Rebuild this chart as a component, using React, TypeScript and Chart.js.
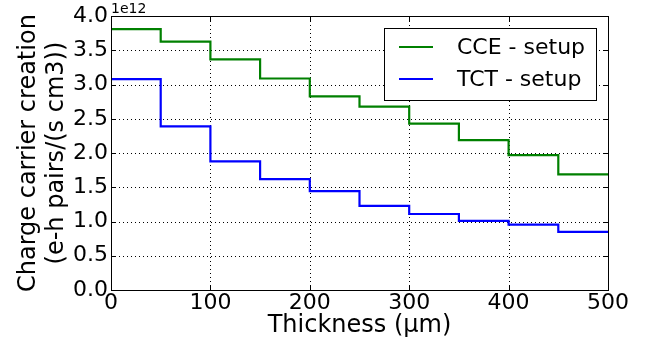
import React, { useEffect, useRef } from "react";
import { Chart, registerables } from "chart.js";

Chart.register(...registerables);

const thickness = [0, 50, 100, 150, 200, 250, 300, 350, 400, 450, 500];
const cce = [3.81, 3.63, 3.37, 3.09, 2.83, 2.68, 2.43, 2.19, 1.97, 1.69, 1.69];
const tct = [3.08, 2.39, 1.88, 1.62, 1.445, 1.23, 1.11, 1.01, 0.955, 0.85, 0.85];
const seriesLabels = ["CCE - setup", "TCT - setup"];
const seriesColors = ["#008000", "#0000ff"];
const yTitle = ["Charge carrier creation", "(e-h pairs/(s cm3))"];
const xTitle = "Thickness (\u00b5m)";
const offsetText = "1e12";

const FONT = "'DejaVu Sans', sans-serif";

const gridPlugin = {
  id: "dotgrid",
  beforeDatasetsDraw(chart: any) {
    const { ctx, chartArea: a, scales } = chart;
    ctx.save();
    ctx.strokeStyle = "#000";
    ctx.lineWidth = 1;
    ctx.setLineDash([1, 3]);
    ctx.beginPath();
    scales.x.ticks.forEach((t: any) => {
      const px = Math.round(scales.x.getPixelForValue(t.value)) + 0.5;
      ctx.moveTo(px, a.bottom);
      ctx.lineTo(px, a.top);
    });
    scales.y.ticks.forEach((t: any) => {
      const py = Math.round(scales.y.getPixelForValue(t.value)) + 0.5;
      ctx.moveTo(a.left, py);
      ctx.lineTo(a.right, py);
    });
    ctx.stroke();
    ctx.restore();
  },
};

const framePlugin = {
  id: "frame",
  afterDraw(chart: any) {
    const { ctx, chartArea: a, scales } = chart;
    ctx.save();
    ctx.strokeStyle = "#000";
    ctx.lineWidth = 1;
    const tl = 5;
    ctx.beginPath();
    scales.x.ticks.forEach((t: any) => {
      const px = Math.round(scales.x.getPixelForValue(t.value)) + 0.5;
      ctx.moveTo(px, a.bottom);
      ctx.lineTo(px, a.bottom - tl);
      ctx.moveTo(px, a.top);
      ctx.lineTo(px, a.top + tl);
    });
    scales.y.ticks.forEach((t: any) => {
      const py = Math.round(scales.y.getPixelForValue(t.value)) + 0.5;
      ctx.moveTo(a.left, py);
      ctx.lineTo(a.left + tl, py);
      ctx.moveTo(a.right, py);
      ctx.lineTo(a.right - tl, py);
    });
    ctx.stroke();
    ctx.strokeRect(Math.round(a.left) + 0.5, Math.round(a.top) + 0.5, Math.round(a.right - a.left), Math.round(a.bottom - a.top));
    ctx.fillStyle = "#000";
    ctx.font = `14px ${FONT}`;
    ctx.textAlign = "left";
    ctx.textBaseline = "alphabetic";
    ctx.fillText(offsetText, a.left, a.top - 3);
    const bx = 384.5, by = 28.5, bw = 212, bh = 72;
    ctx.fillStyle = "#fff";
    ctx.fillRect(bx, by, bw, bh);
    ctx.strokeRect(bx, by, bw, bh);
    ctx.font = `22px ${FONT}`;
    ctx.textBaseline = "middle";
    chart.data.datasets.forEach((ds: any, i: number) => {
      const ly = 47 + i * 32;
      ctx.strokeStyle = ds.borderColor;
      ctx.lineWidth = 2.2;
      ctx.beginPath();
      ctx.moveTo(399, ly);
      ctx.lineTo(433, ly);
      ctx.stroke();
      ctx.fillStyle = "#000";
      ctx.fillText(ds.label, 457, ly + 1);
    });
    ctx.restore();
  },
};

export default function App() {
  const ref = useRef<HTMLCanvasElement>(null);
  useEffect(() => {
    if (!ref.current) return;
    const chart = new Chart(ref.current, {
      type: "line",
      data: {
        datasets: [cce, tct].map((vals, i) => ({
          label: seriesLabels[i],
          data: thickness.map((t, j) => ({ x: t, y: vals[j] })),
          borderColor: seriesColors[i],
          backgroundColor: seriesColors[i],
          borderWidth: 2.2,
          pointRadius: 0,
          stepped: "before" as const,
          fill: false,
        })),
      },
      options: {
        animation: false,
        responsive: false,
        layout: { padding: { left: 0, right: 43, top: 16, bottom: 0 } },
        plugins: { legend: { display: false }, tooltip: { enabled: false } },
        scales: {
          x: {
            type: "linear",
            min: 0,
            max: 500,
            ticks: { stepSize: 100, color: "#000", font: { family: FONT, size: 22 }, padding: 0, maxRotation: 0 },
            grid: { display: false, drawTicks: false },
            border: { display: false },
            title: { display: true, text: xTitle, color: "#000", font: { family: FONT, size: 24 }, padding: { top: 0, bottom: 4 } },
            afterFit: (s: any) => { s.height = 54; },
          },
          y: {
            min: 0,
            max: 4,
            ticks: {
              stepSize: 0.5,
              color: "#000",
              font: { family: FONT, size: 22 },
              padding: 3,
              callback: (v: any) => Number(v).toFixed(1),
            },
            grid: { display: false, drawTicks: false },
            border: { display: false },
            title: { display: true, text: yTitle, color: "#000", font: { family: FONT, size: 24 }, padding: { top: 14, bottom: 0 } },
            afterFit: (s: any) => { s.width = 111; },
          },
        },
      },
      plugins: [gridPlugin, framePlugin],
    });
    return () => chart.destroy();
  }, []);
  return (
    <div style={{ position: "absolute", left: 0, top: 0, width: 651, height: 344, background: "#fff" }}>
      <canvas ref={ref} width={651} height={344} style={{ display: "block" }} />
    </div>
  );
}
